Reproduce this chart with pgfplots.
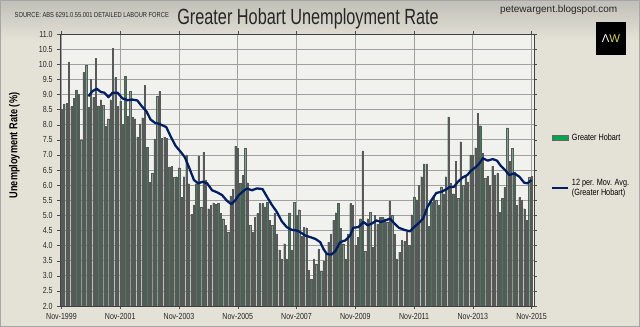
\documentclass[border=0pt]{standalone}
\usepackage{fontspec}
\setmainfont{Liberation Sans}
\newfontfamily\narrow{Liberation Sans}[FakeStretch=0.8]
\newfontfamily\titlefont{Liberation Sans}[FakeStretch=0.74]
\usepackage{pgfplots}
\pgfplotsset{compat=1.18}

\definecolor{bg}{RGB}{228,226,214}
\definecolor{bgtop}{RGB}{192,191,184}
\definecolor{plotbg}{RGB}{241,241,238}
\definecolor{bargreen}{RGB}{52,132,88}
\definecolor{legendgreen}{RGB}{0,165,80}
\definecolor{navy}{RGB}{0,30,100}
\definecolor{gridgray}{RGB}{160,160,160}
\definecolor{awyellow}{RGB}{215,205,80}

\begin{document}
\begin{tikzpicture}
% page background, 1px = 0.75pt
\fill[bg] (0,0) rectangle (480pt,245.25pt);
\shade[top color=bgtop, bottom color=bg] (0,215pt) rectangle (480pt,245.25pt);
\draw[gray!70, line width=0.5pt] (0.25pt,0.25pt) rectangle (479.75pt,245pt);

\begin{axis}[
  at={(45pt,15.75pt)}, anchor=south west,
  scale only axis,
  width=355.5pt, height=204pt,
  xmin=-0.6, xmax=193,
  ymin=2, ymax=11,
  ytick={2,2.5,...,11},
  xtick={0,24,...,192},
  xticklabels={Nov-1999,Nov-2001,Nov-2003,Nov-2005,Nov-2007,Nov-2009,Nov-2011,Nov-2013,Nov-2015},
  grid=major,
  major grid style={gridgray, line width=0.5pt},
  axis background/.style={fill=plotbg},
  axis line style={black!75, line width=0.6pt},
  tick align=outside,
  major tick length=2pt,
  tick style={black!70},
  ticklabel style={font=\narrow\fontsize{6.6}{8}\selectfont, text=black!85},
  /pgf/number format/assume math mode=true,
  yticklabel={\pgfmathprintnumber[fixed,fixed zerofill,precision=1]{\tick}},
  ylabel={\bfseries Unemployment Rate (\%)},
  ylabel style={font=\narrow\fontsize{8.6}{10}\selectfont, at={(-0.075,0.59)}},
  legend cell align=left,
  legend style={at={(1.027,0.655)}, anchor=north west, draw=none, fill=none,
    font=\narrow\fontsize{6.8}{8}\selectfont, row sep=23.5pt,
    cells={align=left}},
]
\addplot[ybar, bar width=0.52, fill=bargreen, draw=black!65, line width=0.1pt,
  legend image code/.code={\draw[fill=legendgreen, draw=black!60, line width=0.4pt] (0pt,-2pt) rectangle (12pt,2pt);}]
coordinates {
(0,8.50) (1,8.67) (2,8.70) (3,10.08) (4,8.60) (5,8.88) (6,9.15) (7,9.00) (8,7.50) (9,9.73)
(10,9.96) (11,8.57) (12,9.50) (13,8.90) (14,10.20) (15,8.62) (16,8.83) (17,8.65) (18,7.95) (19,8.20)
(20,8.83) (21,10.53) (22,9.56) (23,8.60) (24,8.78) (25,8.02) (26,9.60) (27,8.28) (28,9.10) (29,8.25)
(30,8.20) (31,7.60) (32,8.03) (33,8.23) (34,9.30) (35,7.25) (36,6.10) (37,6.40) (38,7.53) (39,8.93)
(40,9.11) (41,7.55) (42,7.60) (43,7.55) (44,6.60) (45,6.63) (46,6.26) (47,6.28) (48,6.58) (49,5.60)
(50,6.28) (51,7.00) (52,6.05) (53,5.03) (54,5.35) (55,6.05) (56,6.97) (57,5.28) (58,7.08) (59,6.17)
(60,5.22) (61,5.33) (62,5.41) (63,5.37) (64,5.39) (65,5.06) (66,4.89) (67,4.67) (68,4.44) (69,5.64)
(70,5.86) (71,7.28) (72,7.22) (73,6.06) (74,6.33) (75,7.22) (76,6.08) (77,4.67) (78,4.44) (79,4.94)
(80,5.06) (81,5.39) (82,5.39) (83,5.28) (84,5.44) (85,4.83) (86,4.67) (87,5.06) (88,4.39) (89,3.86)
(90,3.56) (91,4.06) (92,3.56) (93,5.08) (94,3.86) (95,5.44) (96,5.00) (97,5.19) (98,4.30) (99,4.61)
(100,4.59) (101,3.19) (102,2.89) (103,3.56) (104,3.39) (105,3.89) (106,3.17) (107,3.50) (108,3.72) (109,4.11)
(110,4.39) (111,4.83) (112,5.09) (113,5.39) (114,4.58) (115,4.06) (116,3.56) (117,4.39) (118,5.39) (119,5.33)
(120,4.00) (121,4.28) (122,4.89) (123,7.13) (124,3.81) (125,4.89) (126,5.11) (127,3.94) (128,5.00) (129,4.72)
(130,4.94) (131,4.94) (132,4.89) (133,4.78) (134,5.48) (135,5.00) (136,4.39) (137,3.56) (138,3.78) (139,4.17)
(140,4.14) (141,4.44) (142,4.00) (143,5.02) (144,5.61) (145,5.52) (146,6.00) (147,6.28) (148,6.70) (149,6.70)
(150,4.63) (151,5.44) (152,5.61) (153,5.50) (154,5.33) (155,5.94) (156,5.72) (157,6.28) (158,8.26) (159,6.06)
(160,5.72) (161,6.78) (162,5.56) (163,7.44) (164,6.00) (165,6.33) (166,6.11) (167,7.00) (168,7.00) (169,7.24)
(170,8.37) (171,7.97) (172,7.06) (173,6.22) (174,6.30) (175,6.00) (176,6.63) (177,6.33) (178,6.39) (179,5.11)
(180,5.56) (181,5.92) (182,7.89) (183,6.78) (184,7.22) (185,6.44) (186,5.33) (187,5.59) (188,5.50) (189,5.22)
(190,4.83) (191,6.26) (192,6.30)
};
\addlegendentry{Greater Hobart}

\addplot[navy, line width=1.7pt, line join=round,
  legend image code/.code={\draw[navy, line width=1.7pt] (0pt,0pt) -- (12pt,0pt);}]
coordinates {
(11,8.94) (12.7,9.11) (14.4,9.19) (16.1,9.08) (17.5,9.06) (19.2,8.91) (20.9,9.06) (22.9,9.06)
(24.9,8.87) (27,8.81) (29,8.83) (31,8.80) (32.8,8.61) (34.7,8.44) (36.4,8.17) (38.2,8.06)
(39.8,8.03) (41.5,7.97) (42.8,7.92) (44.6,7.61) (46.6,7.30) (48.6,7.11) (50.4,6.92) (52,6.61)
(54.1,6.17) (55.8,6.06) (57.7,6.11) (59.5,6.06) (61.5,5.83) (63.6,5.76) (65.6,5.67) (67.6,5.48)
(69.4,5.37) (71,5.50) (72.4,5.67) (74,5.78) (75.7,5.89) (77.8,5.83) (79.8,5.89) (82.1,5.87)
(83.9,5.62) (85.9,5.35) (87.9,5.12) (90,4.80) (92,4.61) (94,4.52) (96,4.50) (97.6,4.44)
(99.6,4.33) (101.6,4.28) (103.7,4.22) (105.7,4.11) (107,3.89) (108.4,3.72) (110.2,3.70) (111.8,3.81)
(113.8,4.11) (115.9,4.17) (117.9,4.33) (119.2,4.59) (121.3,4.61) (123.3,4.78) (125.1,4.67) (127,4.74)
(128.7,4.83) (130.5,4.78) (132.1,4.83) (134.2,4.89) (135.9,4.74) (137.8,4.59) (140,4.52) (142.3,4.47)
(144,4.61) (145.9,4.74) (147.7,4.89) (149.5,5.28) (151.1,5.50) (153.1,5.74) (155.2,5.78) (157.2,5.86)
(158.5,5.94) (160.3,5.94) (161.9,6.11) (164,6.26) (165.7,6.33) (167.3,6.48) (169.4,6.61) (170.7,6.72)
(172.1,6.89) (174.1,6.81) (176.1,6.86) (177.9,6.81) (179.5,6.63) (181.2,6.50) (182.9,6.33) (184.9,6.39)
(187,6.28) (189,6.08) (190.3,6.06) (192,6.17)
};
\addlegendentry{12 per. Mov. Avg.\\(Greater Hobart)}
\end{axis}

% texts around the chart
\node[anchor=west, font=\narrow\fontsize{5.4}{6}\selectfont, text=black!85] at (7.5pt,234pt)
  {SOURCE: ABS 6291.0.55.001 DETAILED LABOUR FORCE};
\node[font=\titlefont\fontsize{16.5}{18}\selectfont, text=black!85] at (231pt,231pt)
  {Greater Hobart Unemployment Rate};
\node[font=\fontsize{7.5}{9}\selectfont, text=black!85] at (419pt,237.5pt)
  {petewargent.blogspot.com};
\fill[black] (447pt,204pt) rectangle (469.5pt,228.5pt);
\node[font=\fontsize{8.5}{10}\selectfont, inner sep=0pt] at (458.25pt,216.25pt)
  {\textcolor{white}{Λ}\textcolor{awyellow}{W}};
\pgfresetboundingbox
\path[use as bounding box] (0,0) rectangle (480pt,245.25pt);
\end{tikzpicture}
\end{document}
